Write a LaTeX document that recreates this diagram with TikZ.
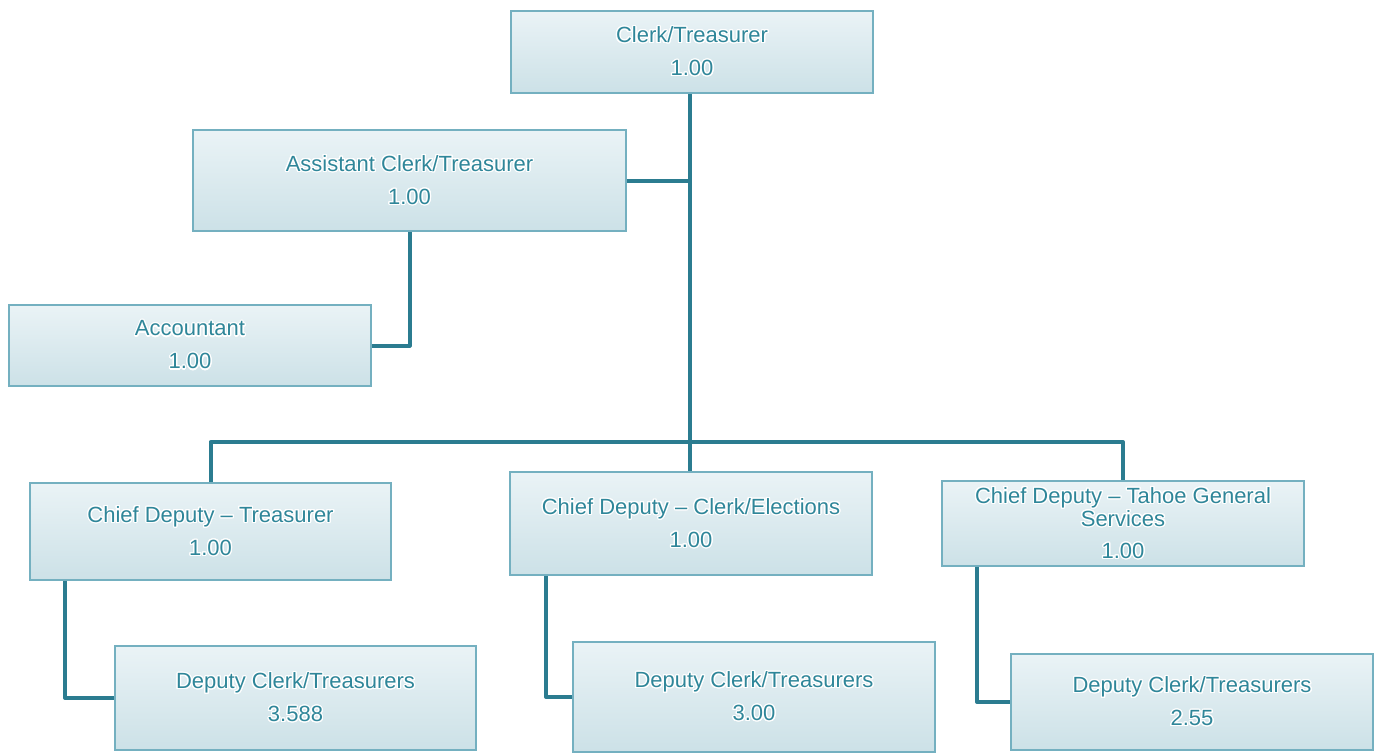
\documentclass[tikz,border=0pt]{standalone}
\usepackage{fontspec}
\setmainfont{Liberation Sans}
\usepackage[copies]{contour}
\contourlength{0.6pt}
\contournumber{24}
\definecolor{boxtop}{HTML}{EAF3F6}
\definecolor{boxbottom}{HTML}{CCE1E7}
\definecolor{boxedge}{HTML}{74B0C0}
\definecolor{labelteal}{HTML}{2F8699}
\definecolor{linkteal}{HTML}{2B7C90}
\newcommand{\glow}[1]{\contour{white}{#1}}
\tikzset{
  orgbox/.style={rectangle, draw=boxedge, line width=0.8pt,
    top color=boxtop, bottom color=boxbottom,
    text=labelteal, font=\fontsize{11}{13}\selectfont, align=center,
    inner sep=0pt},
  link/.style={draw=linkteal, line width=2pt, line join=round}
}
\begin{document}
\begin{tikzpicture}[x=0.5pt, y=-0.5pt]
\useasboundingbox (0,0) rectangle (1374,752);

% top level
\node[orgbox, minimum width=181pt, minimum height=41pt] (ct) at (692,52)
  {\glow{Clerk/Treasurer}\\[3.5pt]\glow{1.00}};
\node[orgbox, minimum width=216.5pt, minimum height=50.5pt] (ac) at (409.5,180.5)
  {\glow{Assistant Clerk/Treasurer}\\[3.5pt]\glow{1.00}};
\node[orgbox, minimum width=181pt, minimum height=40.5pt] (acc) at (190,345.5)
  {\glow{Accountant}\\[3.5pt]\glow{1.00}};

% chief deputies
\node[orgbox, minimum width=180.5pt, minimum height=48.5pt] (cdt) at (210.5,531.5)
  {\glow{Chief Deputy -- Treasurer}\\[3.5pt]\glow{1.00}};
\node[orgbox, minimum width=181pt, minimum height=51.5pt] (cde) at (691,523.5)
  {\glow{Chief Deputy -- Clerk/Elections}\\[3.5pt]\glow{1.00}};
\node[orgbox, minimum width=181pt, minimum height=42.5pt] (cdg) at (1123,523.5)
  {\glow{Chief Deputy -- Tahoe General}\\[-1.5pt]\glow{Services}\\[3pt]\glow{1.00}};

% deputies
\node[orgbox, minimum width=180.5pt, minimum height=52pt] (d1) at (295.5,698)
  {\glow{Deputy Clerk/Treasurers}\\[3.5pt]\glow{3.588}};
\node[orgbox, minimum width=181pt, minimum height=55pt] (d2) at (754,697)
  {\glow{Deputy Clerk/Treasurers}\\[3.5pt]\glow{3.00}};
\node[orgbox, minimum width=181pt, minimum height=48pt] (d3) at (1192,702)
  {\glow{Deputy Clerk/Treasurers}\\[3.5pt]\glow{2.55}};

% connectors
\coordinate (bus) at (690,442);
\begin{scope}[on background layer/.try]
\draw[link] (ct.south -| bus) -- (bus |- cde.north);
\draw[link] (ac.east) -- (ac.east -| bus);
\draw[link] (ac.south) |- (acc.east);
\draw[link] (cdt.north) |- (bus) -| (cdg.north);
\draw[link] ([xshift=18pt]cdt.south west) |- (d1.west);
\draw[link] ([xshift=18.5pt]cde.south west) |- (d2.west);
\draw[link] ([xshift=18pt]cdg.south west) |- (d3.west);
\end{scope}
\end{tikzpicture}
\end{document}
